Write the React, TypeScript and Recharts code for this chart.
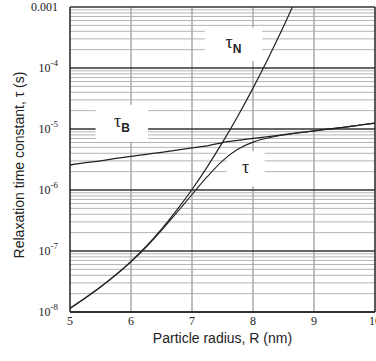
import { Line, LineChart, ReferenceArea, ReferenceLine, XAxis, YAxis } from 'recharts'

// particle radius R (nm)
const radius = [5, 5.25, 5.5, 5.75, 6, 6.25, 6.5, 6.75, 7, 7.25, 7.5, 7.75, 8, 8.25, 8.5, 8.75, 9, 9.25, 9.5, 9.75, 10]

// Neel relaxation time (s), leaves the plot above 1e-3
const tauN = [
  1.15e-8, 1.7e-8, 2.57e-8, 4.07e-8, 6.76e-8, 1.2e-7, 2.29e-7, 4.68e-7, 1.02e-6, 2.4e-6, 6.03e-6,
  1.62e-5, 4.68e-5, 1.45e-4, 4.79e-4, 1.7e-3, null, null, null, null, null,
]

// Brownian relaxation time (s)
const tauB = [
  2.57e-6, 2.8e-6, 3.0e-6, 3.3e-6, 3.56e-6, 3.85e-6, 4.15e-6, 4.5e-6, 4.9e-6, 5.3e-6, 6.0e-6,
  6.5e-6, 7.0e-6, 7.5e-6, 8.1e-6, 8.7e-6, 9.3e-6, 1.0e-5, 1.07e-5, 1.16e-5, 1.25e-5,
]

// effective relaxation time (s)
const tau = [
  1.15e-8, 1.7e-8, 2.57e-8, 4.02e-8, 6.63e-8, 1.16e-7, 2.17e-7, 4.24e-7, 8.44e-7, 1.65e-6, 3.01e-6,
  4.64e-6, 6.09e-6, 7.13e-6, 7.97e-6, 8.66e-6, 9.29e-6, 1.0e-5, 1.07e-5, 1.16e-5, 1.25e-5,
]

const xTicks = [5, 6, 7, 8, 9, 10]
const yTicks = [1e-8, 1e-7, 1e-6, 1e-5, 1e-4, 1e-3]
const yTickLabels = ['10^-8', '10^-7', '10^-6', '10^-5', '10^-4', '0.001']
const minorSteps = [2, 3, 4, 5, 6, 7, 8, 9]

const data = radius.map((r, i) => ({ r, tauN: tauN[i], tauB: tauB[i], tau: tau[i] }))
const minorLines = yTicks.slice(0, -1).flatMap((d) => minorSteps.map((k) => d * k))

const serif = '"Liberation Serif", "DejaVu Serif", serif'
const sans = '"Liberation Sans", Arial, sans-serif'
const ink = '#222'

function YTick({ x, y, index }: any) {
  const label = yTickLabels[index]
  if (!label.includes('^')) {
    return (
      <text x={x} y={y} dy={4} textAnchor='end' fontFamily={serif} fontSize={12} fill={ink}>
        {label}
      </text>
    )
  }
  const [base, exp] = label.split('^')
  return (
    <text x={x} y={y} textAnchor='end' fontFamily={serif} fontSize={12} fill={ink}>
      <tspan dy={4}>{base}</tspan>
      <tspan dy={-6} fontSize={9}>
        {exp}
      </tspan>
    </text>
  )
}

function Tag({ viewBox, sub }: any) {
  const cx = viewBox.x + viewBox.width / 2
  const cy = viewBox.y + viewBox.height / 2
  return (
    <text x={cx} y={cy + 4} textAnchor='middle' fill={ink}>
      <tspan fontFamily={serif} fontSize={18}>
        τ
      </tspan>
      {sub && (
        <tspan fontFamily={sans} fontWeight='bold' fontSize={12} dy={5}>
          {sub}
        </tspan>
      )}
    </text>
  )
}

function YTitle() {
  return (
    <text
      x={19}
      y={165}
      transform='rotate(-90 19 165)'
      textAnchor='middle'
      dominantBaseline='central'
      fontFamily={sans}
      fontSize={14}
      fill={ink}
    >
      Relaxation time constant, τ (s)
    </text>
  )
}

export default function App() {
  return (
    <div style={{ position: 'absolute', left: 0, top: 0, background: '#fff' }}>
      <LineChart width={376} height={361} data={data} margin={{ top: 7, right: 1, bottom: 0, left: 0 }}>
        <XAxis
          dataKey='r'
          type='number'
          domain={[5, 10]}
          ticks={xTicks}
          interval={0}
          height={49}
          tickSize={0}
          tickMargin={4}
          tick={{ fontFamily: serif, fontSize: 12, fill: ink }}
          stroke={ink}
          strokeWidth={1.5}
          label={{
            value: 'Particle radius, R (nm)',
            position: 'insideBottom',
            offset: 18,
            fontFamily: sans,
            fontSize: 14,
            fill: ink,
          }}
        />
        <YAxis
          scale='log'
          domain={[1e-8, 1e-3]}
          allowDataOverflow
          ticks={yTicks}
          interval={0}
          width={70}
          tickSize={0}
          tickMargin={12}
          tick={<YTick />}
          stroke={ink}
          strokeWidth={1.5}
          label={<YTitle />}
        />
        {minorLines.map((v) => (
          <ReferenceLine key={'m' + v} y={v} stroke='#b4b4b4' strokeWidth={1} zIndex={40} />
        ))}
        {xTicks.slice(1, -1).map((v) => (
          <ReferenceLine key={'v' + v} x={v} stroke='#aaa' strokeWidth={1.5} zIndex={40} />
        ))}
        {yTicks.map((v) => (
          <ReferenceLine key={'d' + v} y={v} stroke='#333' strokeWidth={1.3} zIndex={50} />
        ))}
        <ReferenceLine x={10} stroke={ink} strokeWidth={1.5} zIndex={50} />
        <ReferenceArea x1={7.21} x2={8.15} y1={1.3e-4} y2={4.6e-4} fill='#fff' fillOpacity={1} stroke='none' zIndex={100} label={<Tag sub='N' />} />
        <ReferenceArea x1={5.42} x2={6.28} y1={6.2e-6} y2={2.5e-5} fill='#fff' fillOpacity={1} stroke='none' zIndex={100} label={<Tag sub='B' />} />
        <ReferenceArea x1={7.57} x2={8.19} y1={1.15e-6} y2={4.3e-6} fill='#fff' fillOpacity={1} stroke='none' zIndex={100} label={<Tag />} />
        <Line dataKey='tauN' type='monotone' stroke={ink} strokeWidth={1.2} dot={false} isAnimationActive={false} />
        <Line dataKey='tauB' type='monotone' stroke={ink} strokeWidth={1.3} dot={false} isAnimationActive={false} />
        <Line dataKey='tau' type='monotone' stroke={ink} strokeWidth={1.1} dot={false} isAnimationActive={false} />
      </LineChart>
    </div>
  )
}
